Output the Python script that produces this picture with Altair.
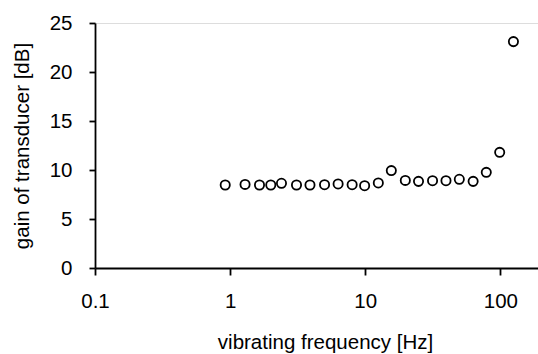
import altair as alt
import pandas as pd

freq_hz = [0.92, 1.29, 1.65, 2.0, 2.4, 3.1, 3.9, 5.0, 6.3, 8.0, 9.9, 12.5,
           15.6, 19.8, 24.8, 31.5, 39.6, 49.7, 62.9, 78.7, 98.9, 125.0]
gain_db = [8.47, 8.53, 8.47, 8.47, 8.64, 8.47, 8.47, 8.5, 8.58, 8.5, 8.4, 8.68,
           9.94, 8.94, 8.84, 8.91, 8.91, 9.05, 8.84, 9.76, 11.8, 23.1]
x_ticks = [0.1, 1, 10, 100]
y_ticks = [0, 5, 10, 15, 20, 25]

df = pd.DataFrame({"freq": freq_hz, "gain": gain_db})
FONT = "Liberation Sans"
FS = 20.5

chart = alt.Chart(df).mark_point(
    shape="circle", filled=False, stroke="black", strokeWidth=1.8, size=85, opacity=1
).encode(
    x=alt.X("freq:Q",
            scale=alt.Scale(type="log", domain=[0.1, 190], nice=False, zero=False),
            axis=alt.Axis(values=x_ticks, format="~g", title="vibrating frequency [Hz]",
                          grid=False, tickSize=7, labelPadding=16,
                          labelFontSize=FS, titleFontSize=FS,
                          labelFont=FONT, titleFont=FONT, labelColor="black", titleColor="black",
                          domainColor="black", tickColor="black", domainWidth=1.8, tickWidth=1.8,
                          titleFontWeight="normal", titleX=230, titleY=80,
                          titleBaseline="alphabetic", titleAnchor="middle", titleAlign="center",
                          labelFlush=False, labelOverlap=False)),
    y=alt.Y("gain:Q",
            scale=alt.Scale(domain=[0, 25], nice=False),
            axis=alt.Axis(values=y_ticks, title="gain of transducer [dB]",
                          grid=False, tickSize=6, labelPadding=17,
                          labelFontSize=FS, titleFontSize=FS,
                          labelFont=FONT, titleFont=FONT, labelColor="black", titleColor="black",
                          domainColor="black", tickColor="black", domainWidth=1.8, tickWidth=1.8,
                          titleFontWeight="normal", titleX=-67, titleBaseline="alphabetic",
                          labelFlush=False, labelOverlap=False)),
).properties(
    width=443, height=245,
    autosize=alt.AutoSizeParams(type="none"),
    padding={"left": 95, "top": 23, "right": 0, "bottom": 86},
).configure_view(stroke=None).configure(background="white")

chart.save("out.html", embed_options={"renderer": "svg", "actions": False})
